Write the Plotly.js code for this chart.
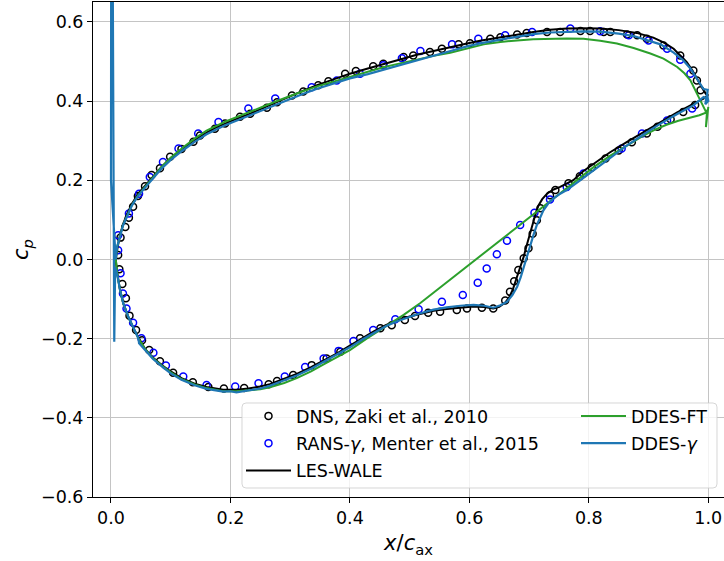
<!DOCTYPE html>
<html><head><meta charset="utf-8">
<script src="https://cdn.plot.ly/plotly-3.0.1.min.js"></script>
<style>html,body{margin:0;padding:0;background:#fff}#chart{width:724px;height:561px}</style>
</head><body><div id="chart"></div>
<script>
// ---------- data ----------
const xTicks = [0.0, 0.2, 0.4, 0.6, 0.8, 1.0];
const yTicks = [-0.6, -0.4, -0.2, 0.0, 0.2, 0.4, 0.6];

// LES-WALE: pressure side (TE -> LE), suction side (LE -> TE)
const les_up_x  = [1.000,0.996,0.991,0.985,0.981,0.973,0.964,0.953,0.942,0.925,0.908,0.880,0.850,0.819,0.790,0.763,0.735,0.707,0.680,0.652,0.620,0.596,0.570,0.540,0.512,0.484,0.456,0.430,0.400,0.370,0.345,0.320,0.300,0.278,0.255,0.233,0.210,0.190,0.177,0.160,0.140,0.120,0.100,0.085,0.070,0.057,0.045,0.035,0.027,0.020,0.015,0.011,0.008];
const les_up_cp = [0.415,0.418,0.430,0.447,0.458,0.478,0.498,0.515,0.532,0.548,0.560,0.572,0.579,0.583,0.584,0.583,0.580,0.574,0.568,0.561,0.553,0.545,0.536,0.526,0.517,0.505,0.494,0.482,0.469,0.454,0.440,0.425,0.412,0.397,0.381,0.368,0.355,0.342,0.334,0.320,0.302,0.279,0.256,0.234,0.208,0.187,0.165,0.140,0.115,0.088,0.060,0.030,0.000];
const les_lo_x  = [0.010,0.0112,0.0151,0.0206,0.029,0.039,0.048,0.057,0.070,0.085,0.100,0.118,0.140,0.160,0.188,0.210,0.230,0.250,0.266,0.290,0.311,0.335,0.356,0.380,0.400,0.420,0.440,0.460,0.479,0.500,0.518,0.540,0.562,0.585,0.607,0.625,0.640,0.650,0.660,0.667,0.673,0.678,0.682,0.687,0.691,0.695,0.699,0.703,0.707,0.712,0.716,0.722,0.730,0.740,0.752,0.765,0.774,0.790,0.808,0.835,0.864,0.892,0.920,0.948,0.975,0.992,1.000];
const les_lo_cp = [-0.030,-0.044,-0.077,-0.111,-0.145,-0.178,-0.202,-0.226,-0.248,-0.267,-0.283,-0.300,-0.314,-0.322,-0.329,-0.329,-0.326,-0.321,-0.315,-0.302,-0.289,-0.272,-0.256,-0.236,-0.218,-0.199,-0.182,-0.166,-0.154,-0.144,-0.137,-0.130,-0.125,-0.121,-0.119,-0.120,-0.124,-0.120,-0.109,-0.095,-0.075,-0.052,-0.035,-0.012,0.007,0.030,0.053,0.076,0.099,0.121,0.137,0.152,0.166,0.176,0.183,0.192,0.200,0.222,0.242,0.270,0.297,0.322,0.347,0.371,0.393,0.406,0.415];

// DDES-FT
const ft_up_x  = [0.997,0.992,0.984,0.977,0.970,0.960,0.948,0.925,0.903,0.875,0.847,0.819,0.791,0.763,0.735,0.707,0.680,0.652,0.624,0.596,0.568,0.540,0.512,0.484,0.456,0.430,0.400,0.370,0.345,0.320,0.300,0.278,0.255,0.233,0.210,0.190,0.160,0.140,0.120,0.100,0.085,0.070,0.057,0.045,0.035,0.027,0.020,0.015,0.010,0.008];
const ft_up_cp = [0.370,0.385,0.410,0.432,0.452,0.470,0.486,0.507,0.520,0.534,0.545,0.552,0.557,0.558,0.557,0.556,0.553,0.549,0.543,0.533,0.522,0.514,0.505,0.495,0.485,0.474,0.462,0.449,0.437,0.424,0.413,0.400,0.386,0.373,0.360,0.347,0.325,0.305,0.282,0.257,0.234,0.206,0.183,0.161,0.137,0.111,0.086,0.058,0.030,0.000];
const ft_lo_x  = [0.0112,0.0151,0.0206,0.029,0.039,0.046,0.057,0.070,0.085,0.100,0.118,0.140,0.160,0.188,0.210,0.230,0.250,0.266,0.290,0.311,0.335,0.356,0.380,0.400,0.428,0.450,0.470,0.490,0.518,0.550,0.580,0.610,0.640,0.670,0.700,0.730,0.760,0.790,0.808,0.836,0.864,0.890,0.910,0.930,0.950,0.970,0.985,0.995,0.998,0.996,1.000];
const ft_lo_cp = [-0.044,-0.077,-0.111,-0.145,-0.178,-0.200,-0.226,-0.249,-0.268,-0.285,-0.302,-0.316,-0.325,-0.333,-0.333,-0.331,-0.328,-0.323,-0.312,-0.300,-0.283,-0.265,-0.246,-0.229,-0.200,-0.179,-0.160,-0.140,-0.110,-0.072,-0.036,0.000,0.035,0.071,0.107,0.142,0.178,0.213,0.233,0.262,0.288,0.311,0.327,0.340,0.350,0.357,0.364,0.370,0.377,0.334,0.385];

// DDES-gamma (with the leading-edge spike)
const dg_up_x  = [0.998,1.000,0.995,0.999,0.992,0.986,0.981,0.970,0.958,0.942,0.920,0.900,0.875,0.850,0.819,0.790,0.763,0.735,0.707,0.680,0.652,0.620,0.596,0.570,0.540,0.512,0.484,0.456,0.430,0.400,0.370,0.345,0.320,0.300,0.278,0.255,0.233,0.210,0.190,0.160,0.140,0.120,0.100,0.085,0.070,0.057,0.045,0.035,0.027,0.020,0.015,0.010,0.008,0.000,0.0008,0.0055,0.007];
const dg_up_cp = [0.415,0.400,0.392,0.428,0.430,0.445,0.458,0.482,0.503,0.522,0.543,0.553,0.564,0.570,0.575,0.576,0.575,0.573,0.569,0.563,0.555,0.546,0.538,0.527,0.514,0.503,0.490,0.478,0.468,0.457,0.443,0.431,0.417,0.405,0.390,0.376,0.364,0.351,0.338,0.316,0.297,0.275,0.251,0.230,0.204,0.182,0.160,0.136,0.110,0.085,0.057,0.030,0.000,0.200,1.500,-0.208,-0.020];
const dg_lo_x  = [0.0112,0.0151,0.0206,0.029,0.039,0.046,0.047,0.057,0.070,0.085,0.100,0.118,0.140,0.160,0.188,0.200,0.210,0.230,0.250,0.266,0.290,0.311,0.335,0.356,0.380,0.400,0.420,0.440,0.460,0.479,0.500,0.518,0.540,0.562,0.585,0.607,0.625,0.640,0.652,0.663,0.672,0.680,0.686,0.691,0.696,0.701,0.707,0.713,0.718,0.724,0.732,0.741,0.752,0.763,0.786,0.808,0.835,0.864,0.892,0.920,0.948,0.975,0.992,0.998];
const dg_lo_cp = [-0.044,-0.077,-0.111,-0.145,-0.178,-0.200,-0.212,-0.229,-0.251,-0.270,-0.288,-0.304,-0.318,-0.327,-0.334,-0.333,-0.336,-0.331,-0.326,-0.319,-0.306,-0.293,-0.276,-0.259,-0.240,-0.222,-0.203,-0.185,-0.169,-0.156,-0.145,-0.136,-0.127,-0.121,-0.117,-0.115,-0.117,-0.122,-0.116,-0.107,-0.090,-0.069,-0.045,-0.019,0.006,0.032,0.060,0.087,0.106,0.124,0.141,0.154,0.166,0.175,0.200,0.225,0.257,0.288,0.316,0.343,0.367,0.389,0.410,0.405];

// DNS, Zaki et al. 2010 (circles)
const dns_x  = [0.016,0.024,0.030,0.037,0.045,0.057,0.068,0.082,0.099,0.118,0.138,0.149,0.174,0.191,0.216,0.233,0.261,0.278,0.303,0.322,0.347,0.364,0.392,0.410,0.439,0.456,0.490,0.506,0.534,0.554,0.582,0.601,0.635,0.652,0.680,0.696,0.730,0.752,0.786,0.802,0.825,0.836,0.864,0.881,0.897,0.925,0.953,0.975,0.981,0.987,
                0.012,0.014,0.019,0.025,0.031,0.042,0.052,0.064,0.082,0.104,0.137,0.163,0.189,0.223,0.264,0.278,0.305,0.336,0.361,0.384,0.417,0.451,0.470,0.492,0.509,0.531,0.551,0.579,0.596,0.621,0.640,0.660,0.668,0.675,0.682,0.691,0.699,0.706,0.713,0.719,0.735,0.744,0.766,0.785,0.805,0.828,0.850,0.872,0.897,0.915,0.937,0.958,0.978];
const dns_cp = [0.055,0.082,0.105,0.133,0.160,0.185,0.213,0.230,0.259,0.279,0.297,0.313,0.330,0.343,0.360,0.368,0.383,0.397,0.414,0.424,0.440,0.450,0.469,0.476,0.488,0.494,0.511,0.515,0.524,0.532,0.543,0.546,0.557,0.561,0.568,0.572,0.574,0.574,0.577,0.577,0.574,0.574,0.568,0.566,0.557,0.540,0.515,0.477,0.452,0.427,
                0.011,-0.025,-0.062,-0.098,-0.142,-0.178,-0.204,-0.229,-0.257,-0.286,-0.310,-0.322,-0.326,-0.325,-0.315,-0.307,-0.292,-0.267,-0.250,-0.233,-0.199,-0.174,-0.166,-0.153,-0.143,-0.135,-0.132,-0.128,-0.124,-0.122,-0.124,-0.104,-0.082,-0.055,-0.027,0.003,0.028,0.065,0.099,0.129,0.162,0.175,0.192,0.210,0.232,0.255,0.275,0.296,0.318,0.335,0.354,0.372,0.390];

// RANS-gamma, Menter et al. 2015 (circles)
const rans_x  = [0.012,0.030,0.047,0.065,0.087,0.113,0.146,0.180,0.230,0.275,0.336,0.378,0.417,0.456,0.487,0.518,0.571,0.615,0.660,0.705,0.769,0.819,0.867,0.900,0.931,0.953,0.970,
                 0.012,0.016,0.020,0.026,0.037,0.051,0.071,0.092,0.121,0.160,0.208,0.247,0.291,0.325,0.356,0.381,0.406,0.439,0.476,0.515,0.554,0.589,0.614,0.629,0.646,0.663,0.685,0.709,0.735,0.763,0.791,0.855,0.889,0.931,0.973];
const rans_cp = [0.061,0.116,0.166,0.208,0.246,0.280,0.318,0.347,0.381,0.406,0.435,0.452,0.469,0.490,0.508,0.526,0.543,0.557,0.566,0.574,0.583,0.576,0.566,0.553,0.532,0.504,0.469,
                 0.023,-0.035,-0.086,-0.124,-0.160,-0.199,-0.236,-0.268,-0.296,-0.317,-0.321,-0.313,-0.296,-0.272,-0.250,-0.231,-0.206,-0.178,-0.151,-0.126,-0.107,-0.090,-0.059,-0.023,0.013,0.047,0.087,0.118,0.151,0.183,0.217,0.280,0.318,0.351,0.381];

// ---------- drawing ----------
const FONT = 'DejaVu Sans, sans-serif';
const W = 724, H = 561, L = 93, R = 0, T = 2, B = 64;
const pw = W - L - R, ph = H - T - B;
const px2x = p => (p - L) / pw;
const py2y = p => (H - B - p) / ph;

const traces = [
  {type:'scatter', mode:'markers', name:'DNS, Zaki et al., 2010', x:dns_x, y:dns_cp,
   marker:{symbol:'circle-open', size:7, color:'black', line:{width:1.5, color:'black'}}, legend:'legend', legendgroup:'a'},
  {type:'scatter', mode:'markers', name:'RANS-<i>γ</i>, Menter et al., 2015', x:rans_x, y:rans_cp,
   marker:{symbol:'circle-open', size:7, color:'#0000ff', line:{width:1.5, color:'#0000ff'}}, legend:'legend', legendgroup:'b'},
  {type:'scatter', mode:'lines', name:'LES-WALE', x:les_up_x.concat(les_lo_x), y:les_up_cp.concat(les_lo_cp),
   line:{color:'black', width:2}, legend:'legend', legendgroup:'c'},
  {type:'scatter', mode:'lines', name:'DDES-FT', x:ft_up_x.concat(ft_lo_x), y:ft_up_cp.concat(ft_lo_cp),
   line:{color:'#2ca02c', width:2}, legend:'legend2', legendgroup:'d'},
  {type:'scatter', mode:'lines', name:'DDES-<i>γ</i>', x:dg_up_x.concat(dg_lo_x), y:dg_up_cp.concat(dg_lo_cp),
   line:{color:'#1f77b4', width:2.2}, legend:'legend2', legendgroup:'e'}
];

// legend frame (matplotlib-like rounded box)
const bx0 = px2x(242), bx1 = px2x(717), by0 = py2y(488), by1 = py2y(403);
const rx = 4 / pw, ry = 4 / ph;
const framePath = `M${bx0+rx},${by0} L${bx1-rx},${by0} Q${bx1},${by0} ${bx1},${by0+ry} L${bx1},${by1-ry} Q${bx1},${by1} ${bx1-rx},${by1} L${bx0+rx},${by1} Q${bx0},${by1} ${bx0},${by1-ry} L${bx0},${by0+ry} Q${bx0},${by0} ${bx0+rx},${by0} Z`;

const axCommon = {
  showgrid:true, gridcolor:'#c4c4c4', gridwidth:1, zeroline:false,
  showline:true, linecolor:'black', linewidth:1,
  ticks:'outside', ticklen:5, tickwidth:1, tickcolor:'black',
  tickformat:'.1f', tickfont:{family:FONT, size:17.5, color:'black'}, automargin:false
};

const legCommon = {xanchor:'left', yanchor:'top', bgcolor:'rgba(0,0,0,0)', borderwidth:0,
  font:{family:FONT, size:17.5, color:'black'}, traceorder:'grouped', tracegroupgap:1.5, itemwidth:45};

const layout = {
  width:W, height:H, margin:{l:L, r:R, t:T, b:B, pad:0},
  paper_bgcolor:'white', plot_bgcolor:'white',
  font:{family:FONT, size:17.5, color:'black'},
  showlegend:true,
  xaxis:Object.assign({}, axCommon, {
    range:[-0.0301, 1.0263], tickmode:'array', tickvals:xTicks, mirror:true,
    title:{text:'<i>x</i>/<i>c</i><sub>ax</sub>', font:{family:FONT, size:21, color:'black'}, standoff:8}
  }),
  yaxis:Object.assign({}, axCommon, {
    range:[-0.6, 0.65], tickmode:'array', tickvals:yTicks,
    title:{text:'<i>c</i><sub><i>p</i></sub>', font:{family:FONT, size:21, color:'black'}, standoff:6}
  }),
  legend:Object.assign({}, legCommon, {x:px2x(241), y:py2y(398)}),
  legend2:Object.assign({}, legCommon, {x:px2x(576), y:py2y(398)}),
  shapes:[{type:'path', xref:'paper', yref:'paper', path:framePath, layer:'above',
           fillcolor:'rgba(255,255,255,0.8)', line:{color:'rgba(204,204,204,0.8)', width:1}}]
};

Plotly.newPlot('chart', traces, layout, {staticPlot:true, displayModeBar:false});
</script>
</body></html>
